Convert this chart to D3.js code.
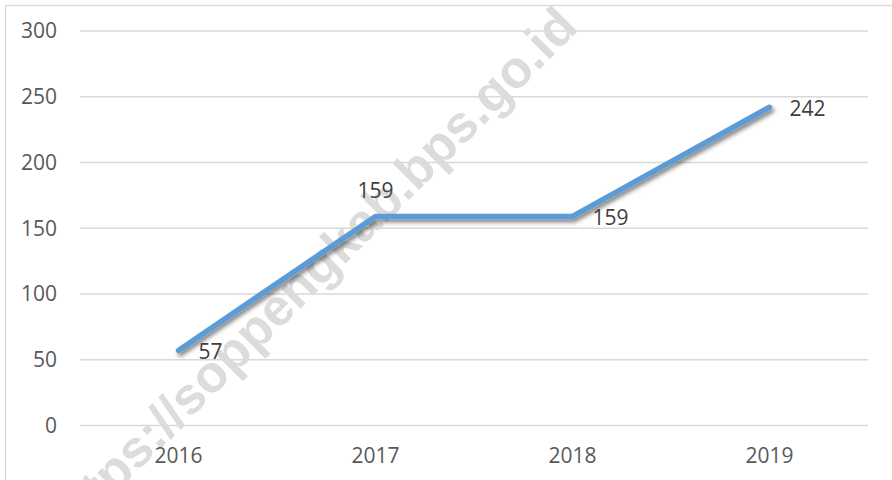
<!DOCTYPE html>
<meta charset="utf-8"/>
<title>Line chart 2016-2019</title>
<style>
    body { margin: 0; background: #fff; }
    text { font-family: "Open Sans", "Noto Sans", sans-serif; }
    .grid line { stroke: #d9d9d9; stroke-width: 1.3px; }
    .tick-label { font-size: 21px; fill: #595959; }
    .value-label { font-size: 21px; fill: #404040; }
    .line { fill: none; stroke: #5b9bd5; stroke-width: 5.5px; stroke-linecap: round; stroke-linejoin: round; }
</style>
<script src="https://cdn.jsdelivr.net/npm/d3@7"></script>
<svg id="chart" width="892" height="480"></svg>
<script>
    "use strict";

    // data
    const years = ["2016", "2017", "2018", "2019"];
    const values = [57, 159, 159, 242];
    const labelPos = ["right", "above", "right", "right"];
    const yTicks = [0, 50, 100, 150, 200, 250, 300];

    const width = 892;
    const height = 480;
    const plot = {left: 80, right: 868, top: 31, bottom: 425.5};

    const svg = d3.select("#chart");

    // drop shadow for the line
    const defs = svg.append("defs");
    defs.append("filter")
        .attr("id", "shadow")
        .attr("x", "-10%").attr("y", "-10%")
        .attr("width", "120%").attr("height", "130%")
        .append("feDropShadow")
        .attr("dx", 2).attr("dy", 3)
        .attr("stdDeviation", 2.2)
        .attr("flood-color", "#000")
        .attr("flood-opacity", 0.5);

    // outer border (right/bottom edges fall outside the picture)
    svg.append("rect")
        .attr("x", 5.5).attr("y", 5.5)
        .attr("width", width + 20).attr("height", height + 20)
        .attr("fill", "none")
        .attr("stroke", "#d9d9d9")
        .attr("stroke-width", 1.3);

    const x = d3.scalePoint()
        .domain(years)
        .range([plot.left, plot.right])
        .padding(0.5);

    const y = d3.scaleLinear()
        .domain([0, 300])
        .range([plot.bottom, plot.top]);

    // gridlines
    svg.append("g")
        .attr("class", "grid")
        .selectAll("line")
        .data(yTicks)
        .join("line")
        .attr("x1", plot.left)
        .attr("x2", plot.right)
        .attr("y1", function (d) { return y(d); })
        .attr("y2", function (d) { return y(d); });

    // watermark, under labels and line
    svg.append("text")
        .attr("transform", "translate(580,29) rotate(-45)")
        .attr("text-anchor", "end")
        .style("font-family", "'Liberation Sans', Arial, sans-serif")
        .style("font-weight", "bold")
        .style("font-size", "52px")
        .style("fill", "#dcdcdc")
        .text("https://soppengkab.bps.go.id");

    // y tick labels
    svg.append("g")
        .selectAll("text")
        .data(yTicks)
        .join("text")
        .attr("class", "tick-label")
        .attr("x", 57)
        .attr("y", function (d) { return y(d); })
        .attr("dy", "0.35em")
        .attr("text-anchor", "end")
        .text(function (d) { return d; });

    // x tick labels
    svg.append("g")
        .selectAll("text")
        .data(years)
        .join("text")
        .attr("class", "tick-label")
        .attr("x", function (d) { return x(d); })
        .attr("y", 456)
        .attr("dy", "0.35em")
        .attr("text-anchor", "middle")
        .text(function (d) { return d; });

    // line
    const points = years.map(function (d, i) { return {year: d, value: values[i], pos: labelPos[i]}; });

    svg.append("path")
        .datum(points)
        .attr("class", "line")
        .attr("filter", "url(#shadow)")
        .attr("d", d3.line()
            .x(function (d) { return x(d.year); })
            .y(function (d) { return y(d.value); }));

    // value labels
    svg.append("g")
        .selectAll("text")
        .data(points)
        .join("text")
        .attr("class", "value-label")
        .attr("x", function (d) { return d.pos === "above" ? x(d.year) : x(d.year) + 20; })
        .attr("y", function (d) { return d.pos === "above" ? y(d.value) - 26 : y(d.value) + 1; })
        .attr("dy", "0.35em")
        .attr("text-anchor", function (d) { return d.pos === "above" ? "middle" : "start"; })
        .text(function (d) { return d.value; });
</script>
